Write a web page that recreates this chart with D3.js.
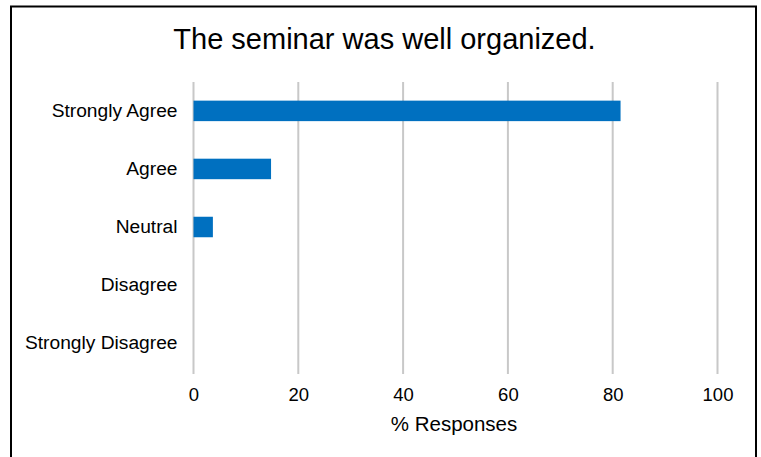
<!DOCTYPE html>
<html>
<head>
<meta charset="utf-8">
<script src="https://cdn.jsdelivr.net/npm/d3@7"></script>
<style>
  html, body { margin: 0; padding: 0; background: #fff; }
  svg { display: block; font-family: "Liberation Sans", Arial, sans-serif; }
</style>
</head>
<body>
<svg id="chart" width="761" height="457"></svg>
<script>
const title = "The seminar was well organized.";
const categories = ["Strongly Agree", "Agree", "Neutral", "Disagree", "Strongly Disagree"];
const values = [81.5, 14.8, 3.7, 0, 0];
const xTicks = [0, 20, 40, 60, 80, 100];
const xLabel = "% Responses";

const svg = d3.select("#chart");

// outer frame
svg.append("rect")
  .attr("x", 11).attr("y", 6.5)
  .attr("width", 745).attr("height", 470)
  .attr("fill", "none").attr("stroke", "#000").attr("stroke-width", 2);

const x = d3.scaleLinear().domain([0, 100]).range([193.5, 717.5]);
const y = d3.scaleBand().domain(categories).range([82, 372]).paddingInner(0.645).paddingOuter(0.32);

// gridlines
svg.append("g").selectAll("line").data(xTicks).join("line")
  .attr("x1", d => x(d)).attr("x2", d => x(d))
  .attr("y1", 82).attr("y2", 374)
  .attr("stroke", "#c8c8c8").attr("stroke-width", 2);

// bars
const data = categories.map((c, i) => ({c, v: values[i]}));
const bh = 20.5;
svg.append("g").selectAll("rect").data(data.filter(d => d.v > 0)).join("rect")
  .attr("x", x(0))
  .attr("y", d => y(d.c) + y.bandwidth() / 2 - bh / 2)
  .attr("width", d => x(d.v) - x(0))
  .attr("height", bh)
  .attr("fill", "#0070c0");

// x axis tick labels
const xAxis = d3.axisBottom(x).tickValues(xTicks).tickSize(0).tickPadding(0).tickFormat(d3.format("d"));
const gx = svg.append("g").attr("transform", "translate(0,388)").call(xAxis);
gx.select(".domain").remove();
gx.selectAll("text").attr("font-size", 18.5).attr("fill", "#000")
  .attr("font-family", "Liberation Sans, Arial, sans-serif").attr("dy", "0.72em");

// y axis labels
const yAxis = d3.axisLeft(y).tickSize(0).tickPadding(16);
const gy = svg.append("g").attr("transform", `translate(${x(0)},0)`).call(yAxis);
gy.select(".domain").remove();
gy.selectAll("text").attr("font-size", 19.2).attr("fill", "#000")
  .attr("font-family", "Liberation Sans, Arial, sans-serif").attr("dy", "0.32em");

// title
svg.append("text")
  .attr("x", 384.5).attr("y", 48.5)
  .attr("text-anchor", "middle")
  .attr("font-size", 29)
  .attr("fill", "#000")
  .text(title);

// x axis label
svg.append("text")
  .attr("x", 454).attr("y", 430.5)
  .attr("text-anchor", "middle")
  .attr("font-size", 20.5)
  .attr("fill", "#000")
  .text(xLabel);
</script>
</body>
</html>
